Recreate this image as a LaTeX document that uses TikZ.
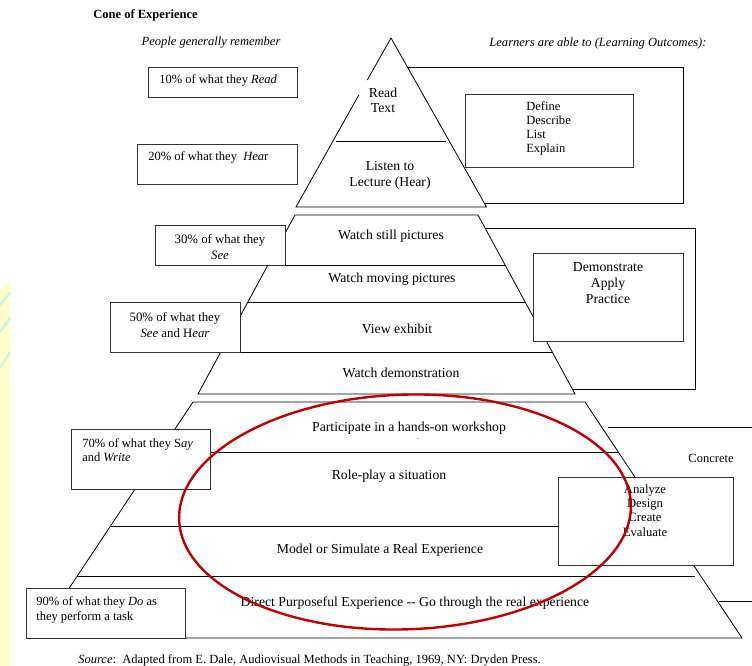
\documentclass[tikz,border=0pt]{standalone}
\usepackage{fontspec}
\setmainfont{Liberation Serif}
\definecolor{ellred}{RGB}{192,0,0}
\definecolor{paleyellow}{RGB}{255,255,206}
\definecolor{paleminty}{RGB}{205,245,222}
\begin{document}
\begin{tikzpicture}[x=0.75pt,y=-0.75pt,
  ln/.style={line width=0.6pt, draw=black},
  bx/.style={line width=0.7pt, draw=black!80, fill=white},
  conetxt/.style={font=\fontsize{10.3}{12}\selectfont, align=center, inner sep=0pt},
  boxtxt/.style={font=\fontsize{9.4}{10.7}\selectfont, align=left, anchor=west, inner sep=0pt},
  boxctr/.style={font=\fontsize{9.6}{12}\selectfont, align=center, inner sep=0pt},
  hdr/.style={font=\fontsize{9.4}{11}\selectfont\itshape, inner sep=0pt},
  ellipsestyle/.style={draw=ellred, line width=1.8pt}
]
\useasboundingbox (0,0) rectangle (752,666);
% background strip
\fill[paleyellow] (0,290) -- (10,281) -- (10,666) -- (0,666) -- cycle;
\draw[paleminty, line width=2pt] (0,305) -- (10,293);
\draw[paleminty, line width=2pt] (0,332) -- (10,318);
\draw[paleminty, line width=1.5pt] (0,368) -- (10,352);

% ---- top triangle
\draw[ln] (391,38) -- (367.3,80);
\draw[ln] (358.8,95) -- (296,207) -- (486.5,207) -- (391,38);
\draw[ln] (336,141) -- (446,141);
% bracket 1
\draw[ln] (407,67) -- (683,67) -- (683,203) -- (484,203);

% ---- middle trapezoid
\draw[ln] (295,215) -- (478,215) -- (575,394) -- (198,394) -- cycle;
\draw[ln] (268,265) -- (505,265);
\draw[ln] (248,302) -- (525,302);
\draw[ln] (221,352) -- (553,352);
% bracket 2
\draw[ln] (485,228) -- (695,228) -- (695,389) -- (572,389);

% ---- bottom trapezoid
\draw[ln] (193,402) -- (585,402) -- (742,638) -- (36,638) -- cycle;
\draw[ln] (160,452) -- (618,452);
\draw[ln] (110.5,526) -- (667,526);
\draw[ln] (77,576) -- (695,576);
% bracket 3
\draw[ln] (608,427) -- (752,427);
\draw[ln] (719,601) -- (752,601);
\fill[black!60] (418,438.5) circle (0.4pt);

% ---- boxes
\draw[bx] (148,67) rectangle (297,97);
\draw[bx] (137,144) rectangle (297,184);
\draw[bx] (155,225) rectangle (285,265);
\draw[bx] (110,302) rectangle (240,352);
\draw[bx] (71,429) rectangle (210,489);
\draw[bx] (26,588) rectangle (185,638);
\draw[bx] (465,94) rectangle (633,167);
\draw[bx] (533,253) rectangle (683,341);
\draw[bx] (558,477) rectangle (733,565);

% ---- headers
\node[anchor=west, inner sep=0pt, font=\fontsize{9.4}{11}\selectfont\bfseries] (title) at (93,15) {Cone of Experience};
\node[hdr] (remember) at (211,43) {People generally remember};
\node[hdr] (learners) at (598,43) {Learners are able to (Learning Outcomes):};

% ---- left texts
\node[boxtxt] (t10) at (159,80) {10\% of what they \textit{Read}};
\node[boxtxt] (t20) at (148,157) {20\% of what they\ \ \textit{Hea}r};
\node[boxctr, font=\fontsize{9.6}{11.5}\selectfont] (t30) at (220,247) {30\% of what they\\\textit{See}};
\node[boxctr, font=\fontsize{9.6}{11.5}\selectfont] (t50) at (175,325) {50\% of what they\\\textit{See} and H\textit{ear}};
\node[boxtxt] (t70) at (82,450) {70\% of what they S\textit{ay}\\and \textit{Write}};
\node[boxtxt, font=\fontsize{9.4}{11.2}\selectfont] (t90) at (36,609.5) {90\% of what they \textit{Do} as\\they perform a task};

% ---- cone texts
\node[conetxt, font=\fontsize{10.3}{11.25}\selectfont] (read) at (383,100.5) {Read\\Text};
\node[conetxt] (listen) at (390,175) {Listen to\\Lecture (Hear)};
\node[conetxt] (still) at (391,236) {Watch still pictures};
\node[conetxt] (moving) at (392,279) {Watch moving pictures};
\node[conetxt] (exhibit) at (397,329) {View exhibit};
\node[conetxt] (demo) at (401,373) {Watch demonstration};
\node[conetxt] (workshop) at (409,428) {Participate in a hands-on workshop};
\node[conetxt] (role) at (389,476) {Role-play a situation};
\node[conetxt] (model) at (380,550) {Model or Simulate a Real Experience};
\node[conetxt] (direct) at (415,603) {Direct Purposeful Experience -{}- Go through the real experience};

% ---- right texts
\node[boxtxt] (define) at (526,128.5) {Define\\Describe\\List\\Explain};
\node[boxctr, font=\fontsize{10.3}{12}\selectfont] (apply) at (608,283) {Demonstrate\\Apply\\Practice};
\node[boxctr, font=\fontsize{9.5}{10.7}\selectfont] (analyze) at (645,510.5) {Analyze\\Design\\Create\\Evaluate};
\node[boxctr, font=\fontsize{9.4}{11}\selectfont] (concrete) at (711,458) {Concrete};

% ---- source
\node[anchor=west, inner sep=0pt, font=\fontsize{9.4}{11}\selectfont] (source) at (78,660) {\textit{Source}:\ \ Adapted from E. Dale, Audiovisual Methods in Teaching, 1969, NY: Dryden Press.};

% ---- red ellipse
\draw[ellipsestyle, rotate around={2:(405,512)}] (405,512) ellipse [x radius=169.5pt, y radius=88pt];
\end{tikzpicture}
\end{document}
